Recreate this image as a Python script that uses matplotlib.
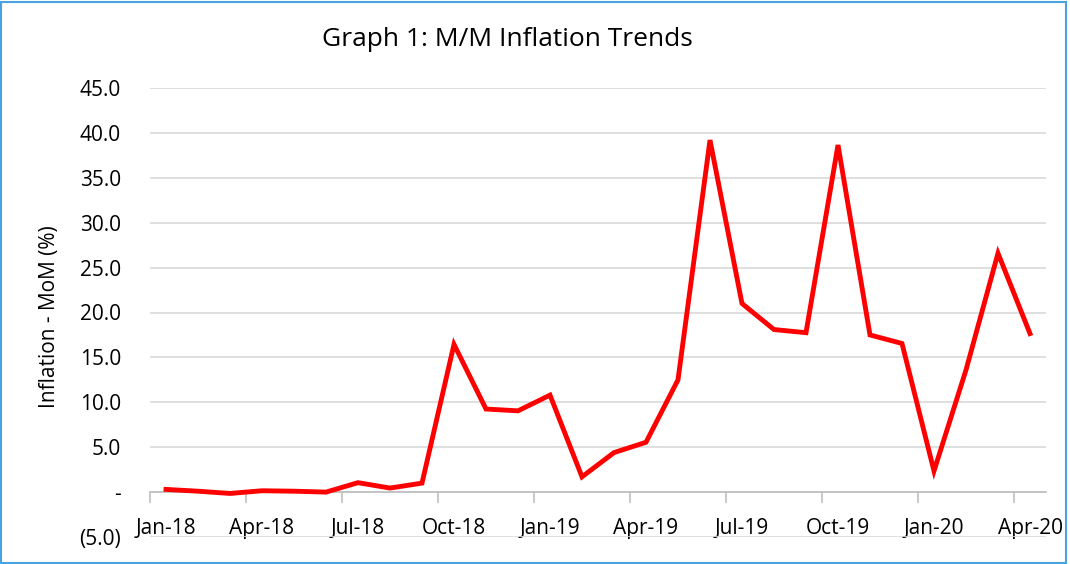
"""Graph 1: M/M Inflation Trends."""

import matplotlib.pyplot as plt
import numpy as np
from matplotlib.patches import Rectangle

months = [
    "Jan-18", "Feb-18", "Mar-18", "Apr-18", "May-18", "Jun-18", "Jul-18",
    "Aug-18", "Sep-18", "Oct-18", "Nov-18", "Dec-18", "Jan-19", "Feb-19",
    "Mar-19", "Apr-19", "May-19", "Jun-19", "Jul-19", "Aug-19", "Sep-19",
    "Oct-19", "Nov-19", "Dec-19", "Jan-20", "Feb-20", "Mar-20", "Apr-20",
]
inflation_mom = [
    0.3, 0.1, -0.15, 0.15, 0.1, 0.0, 1.05, 0.45, 1.0, 16.45, 9.25, 9.05,
    10.8, 1.7, 4.4, 5.55, 12.5, 39.2, 21.0, 18.1, 17.75, 38.65, 17.5, 16.55,
    2.35, 13.6, 26.6, 17.65,
]
y_ticks = [-5, 0, 5, 10, 15, 20, 25, 30, 35, 40, 45]
y_tick_labels = ["(5.0)", "-", "5.0", "10.0", "15.0", "20.0", "25.0",
                 "30.0", "35.0", "40.0", "45.0"]

plt.rcParams["font.family"] = ["Open Sans", "DejaVu Sans"]

fig = plt.figure(figsize=(10.7, 5.64), dpi=100)
ax = fig.add_axes([150 / 1070, 1 - 537 / 564, 896 / 1070, 449 / 564])

x = np.arange(len(months))
ax.plot(x, inflation_mom, color="#ff0000", linewidth=3.5, solid_joinstyle="miter", zorder=3)

ax.set_xlim(-0.5, len(months) - 0.5)
ax.set_ylim(-5, 45)
ax.set_yticks(y_ticks)
ax.set_yticklabels(y_tick_labels, fontsize=15)
ax.tick_params(axis="y", length=0, pad=21)
ax.grid(axis="y", color="#d9d9d9", linewidth=1.2)
ax.set_axisbelow(True)

# category axis crosses at zero: boundary ticks, labels centred in month slots
ax.spines["bottom"].set_position(("data", 0))
ax.spines["bottom"].set_color("#bfbfbf")
ax.spines["bottom"].set_linewidth(1.2)
for side in ["top", "right", "left"]:
    ax.spines[side].set_visible(False)
ax.set_xticks(np.arange(-0.5, len(months) - 0.5, 3))
ax.set_xticklabels([])
ax.set_xticks(x[::3], minor=True)
ax.set_xticklabels(months[::3], minor=True, fontsize=15)
ax.tick_params(axis="x", which="major", length=8, color="#bfbfbf", width=1.2)
ax.tick_params(axis="x", which="minor", length=0, pad=19)

ax.set_ylabel("Inflation - MoM (%)", fontsize=15, va="center")
ax.yaxis.set_label_coords(-0.112, 0.49)
fig.text(507 / 1070, 1 - 40 / 564, "Graph 1: M/M Inflation Trends",
         ha="center", va="center", fontsize=19)

fig.patches.append(Rectangle((0.001, 0.001), 0.995, 0.996, transform=fig.transFigure,
                             fill=False, edgecolor="#4aa3df", linewidth=1.5))

fig.savefig("out.png", dpi=100)
plt.close(fig)
